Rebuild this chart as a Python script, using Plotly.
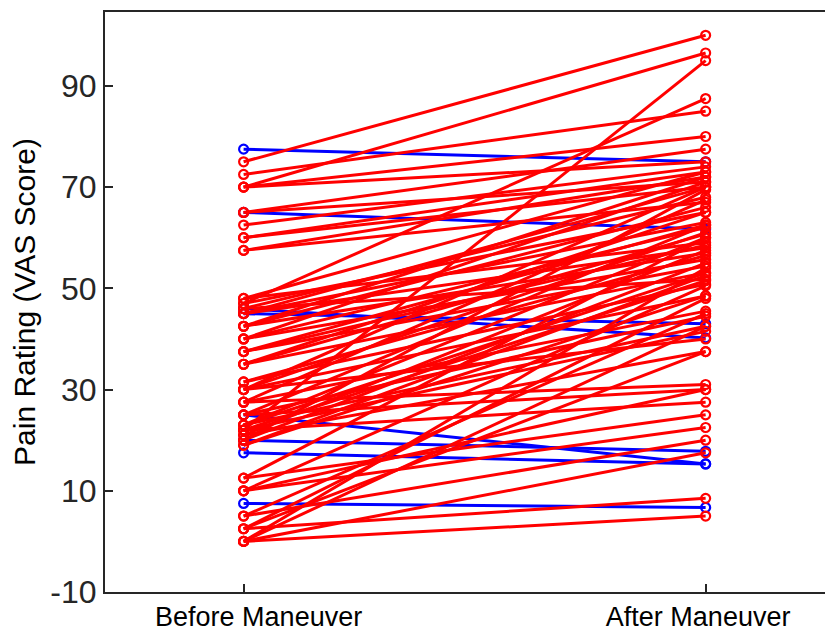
import plotly.graph_objects as go

NB = "\u00a0"
categories = ["Before Maneuver", "After Maneuver"]
tick_labels = [NB * 4 + categories[0], categories[1] + NB * 2]
y_ticks = [-10, 10, 30, 50, 70, 90]
y_tick_text = ["-10", "10", "30", "50", "70", "90"]

# Subjects whose pain decreased (blue)
blue_before = [77.5, 65, 45, 46, 25, 20, 17.5, 7.5]
blue_after = [75, 61.7, 43, 40.2, 15.3, 17.8, 15.3, 6.7]

# Subjects whose pain increased (red)
red_before = [75, 70, 22, 47, 72.5, 70, 65, 70, 62.5, 60, 57.5, 65, 60, 48, 46,
              42.5, 40, 30, 47, 45, 37.5, 35, 48, 45, 42.5, 40, 37.5, 35, 46,
              31.5, 30, 27.5, 25, 23, 22, 30, 21, 19, 20, 21, 23, 25, 27.5,
              31.5, 27.5, 25, 22, 12.5, 10, 5, 0, 2.5, 0, 0, 2.5, 5, 10, 12.5,
              0, 2.5, 22, 23, 19, 35, 40, 42.5, 45, 57.5, 37.5, 30, 20, 10]
red_after = [100, 96.5, 95, 87.5, 85, 80, 77.5, 75, 74, 73, 72, 71, 70, 73, 68,
             72, 71, 70, 65, 63, 62.5, 60.7, 59, 58, 57, 55.7, 54.4, 53.1, 51.8,
             50.8, 48.5, 45.5, 44.5, 42.5, 41.5, 40, 37.5, 52.5, 55, 57.5, 60,
             62.5, 67.5, 56.5, 31, 30, 27.5, 25, 22.5, 20, 17.5, 8.5, 5, 54,
             48, 45, 50.5, 60, 42.5, 37.5, 51.5, 53, 48.5, 65, 62, 66, 70, 67,
             58.5, 61, 69.5, 30]


def segments(before, after):
    xs, ys = [], []
    for b, a in zip(before, after):
        xs += [1, 2, None]
        ys += [b, a, None]
    return xs, ys


fig = go.Figure()
for bef, aft, col in [(blue_before, blue_after, "#0000FF"),
                      (red_before, red_after, "#FF0000")]:
    xs, ys = segments(bef, aft)
    fig.add_trace(go.Scatter(
        x=xs, y=ys, mode="lines+markers",
        line=dict(color=col, width=3),
        marker=dict(symbol="circle-open", size=9, color=col,
                    line=dict(width=2.2, color=col)),
        showlegend=False, hoverinfo="skip"))

axis_col = "#262626"
fig.update_layout(
    width=833, height=635,
    margin=dict(l=97, r=0, t=4, b=51),
    paper_bgcolor="white", plot_bgcolor="white",
    font=dict(family="Liberation Sans, Arial, sans-serif", color="#262626"),
    xaxis=dict(range=[0.70, 2.293], tickvals=[1, 2], ticktext=tick_labels,
               showgrid=False, zeroline=False, showline=True,
               linecolor=axis_col, linewidth=2, mirror=True,
               ticks="inside", ticklen=8, tickwidth=2, tickcolor=axis_col,
               tickfont=dict(size=27, color="black")),
    yaxis=dict(range=[-10, 104.6], tickvals=y_ticks, ticktext=y_tick_text,
               showgrid=False, zeroline=False, showline=True,
               linecolor=axis_col, linewidth=2, mirror=False,
               ticks="inside", ticklen=8, tickwidth=2, tickcolor=axis_col,
               tickfont=dict(size=32, color=axis_col),
               title=dict(text="Pain Rating (VAS Score)",
                          font=dict(size=30, color="black"), standoff=12)),
)

fig.write_html("out.html")
